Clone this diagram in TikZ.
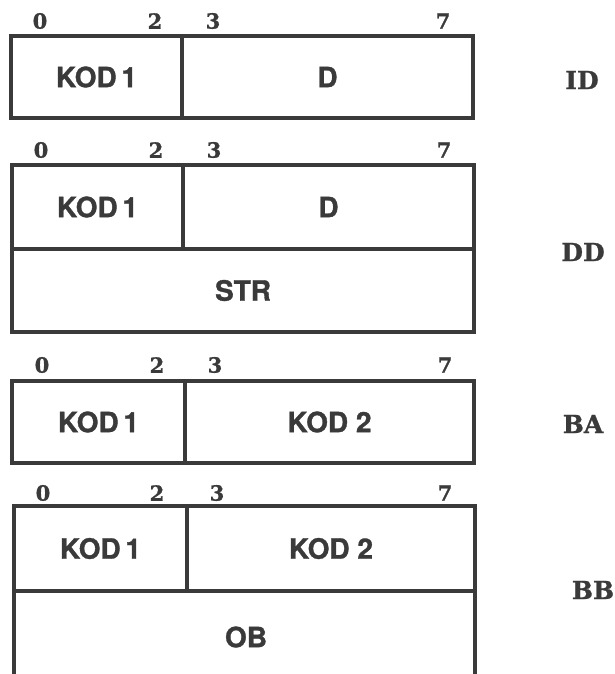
\documentclass[tikz,border=0pt]{standalone}
\usepackage{fontspec}
\setmainfont{TeX Gyre Heros}
\newfontfamily\boxfont[BoldFeatures={FakeBold=1.2}]{TeX Gyre Heros}
\newfontfamily\numfont[BoldFeatures={FakeBold=1}]{DejaVu Serif}
\definecolor{ink}{HTML}{3A3A3A}
\begin{document}
\begin{tikzpicture}[x=1pt,y=-1pt,
  cell/.style={draw=ink, line width=3.2pt, inner sep=0pt, outer sep=0pt, anchor=north west, text=ink,
    font=\boxfont\bfseries\fontsize{28}{28}\selectfont},
  bitnum/.style={text=ink, inner sep=0pt, font=\numfont\bfseries\fontsize{21}{21}\selectfont},
  fmt/.style={text=ink, inner sep=0pt, font=\numfont\bfseries\fontsize{25}{25}\selectfont}]
\useasboundingbox (0,0) rectangle (615,674);
% ID
\node[cell, minimum width=171pt, minimum height=82pt] (a1) at (11,36) {KOD\,1};
\node[cell, minimum width=291pt, minimum height=82pt] (a2) at (182,36) {D};
\node[bitnum] (a0n) at (40,21) {0};
\node[bitnum] (a2n) at (155,21) {2};
\node[bitnum] (a3n) at (213,21) {3};
\node[bitnum] (a7n) at (443,21) {7};
\node[fmt] (id) at (582,80) {ID};
% DD
\node[cell, minimum width=171pt, minimum height=84pt] (b1) at (12,165) {KOD\,1};
\node[cell, minimum width=291pt, minimum height=84pt] (b2) at (183,165) {D};
\node[cell, minimum width=462pt, minimum height=83pt] (b3) at (12,249) {STR};
\node[bitnum] (b0n) at (41,150) {0};
\node[bitnum] (b2n) at (156,150) {2};
\node[bitnum] (b3n) at (214,150) {3};
\node[bitnum] (b7n) at (444,150) {7};
\node[fmt] (dd) at (583,252) {DD};
% BA
\node[cell, minimum width=173pt, minimum height=82pt] (c1) at (12,381) {KOD\,1};
\node[cell, minimum width=289pt, minimum height=82pt] (c2) at (185,381) {KOD 2};
\node[bitnum] (c0n) at (42,365) {0};
\node[bitnum] (c2n) at (157,365) {2};
\node[bitnum] (c3n) at (215,365) {3};
\node[bitnum] (c7n) at (445,365) {7};
\node[fmt] (ba) at (583,424) {BA};
% BB
\node[cell, minimum width=173pt, minimum height=85pt] (d1) at (14,506) {KOD\,1};
\node[cell, minimum width=288pt, minimum height=85pt] (d2) at (187,506) {KOD 2};
\node[cell, minimum width=461pt, minimum height=100pt] (d3) at (14,591) {};
\node[text=ink, font=\boxfont\bfseries\fontsize{28}{28}\selectfont] (ob) at (246,637) {OB};
\node[bitnum] (d0n) at (43,493) {0};
\node[bitnum] (d2n) at (157,493) {2};
\node[bitnum] (d3n) at (217,493) {3};
\node[bitnum] (d7n) at (445,493) {7};
\node[fmt] (bb) at (593,590) {BB};
\end{tikzpicture}
\end{document}
